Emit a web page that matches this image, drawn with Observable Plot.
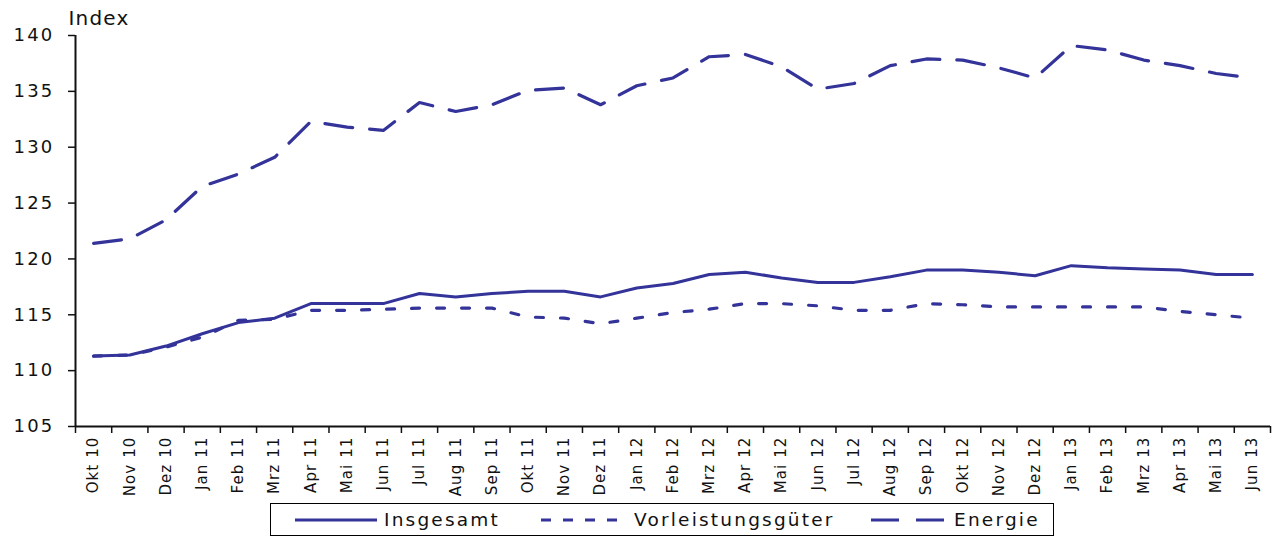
<!DOCTYPE html>
<html>
<head>
<meta charset="utf-8">
<script src="https://cdn.jsdelivr.net/npm/d3@7"></script>
<script src="https://cdn.jsdelivr.net/npm/@observablehq/plot@0.6"></script>
<style>
  body { margin: 0; background: white; font-family: "DejaVu Sans", Verdana, sans-serif; }
  #wrap { position: relative; width: 1274px; height: 540px; }
  .yax text { letter-spacing: 2.2px; }
  .xax text { letter-spacing: 1.1px; }
  .idx text { letter-spacing: 1.2px; }
  #legend { position: absolute; left: 270px; top: 503px; width: 784px; height: 33px; border: 1px solid #000; box-sizing: border-box; font-size: 18.5px; letter-spacing: 2.2px; color: #111; }
  #legend .item { display: flex; align-items: center; position: absolute; top: 0; height: 31px; }
  #legend svg { margin-right: 7px; }
</style>
</head>
<body>
<div id="wrap">
  <div id="chart"></div>
  <div id="legend"></div>
</div>
<script>
const months = ["Okt 10","Nov 10","Dez 10","Jan 11","Feb 11","Mrz 11","Apr 11","Mai 11","Jun 11","Jul 11","Aug 11","Sep 11","Okt 11","Nov 11","Dez 11","Jan 12","Feb 12","Mrz 12","Apr 12","Mai 12","Jun 12","Jul 12","Aug 12","Sep 12","Okt 12","Nov 12","Dez 12","Jan 13","Feb 13","Mrz 13","Apr 13","Mai 13","Jun 13"];
const insgesamt = [111.3,111.4,112.2,113.3,114.3,114.7,116.0,116.0,116.0,116.9,116.6,116.9,117.1,117.1,116.6,117.4,117.8,118.6,118.8,118.3,117.9,117.9,118.4,119.0,119.0,118.8,118.5,119.4,119.2,119.1,119.0,118.6,118.6];
const vorleistung = [111.3,111.4,112.1,113.0,114.5,114.6,115.4,115.4,115.5,115.6,115.6,115.6,114.8,114.7,114.2,114.7,115.2,115.5,116.0,116.0,115.8,115.4,115.4,116.0,115.9,115.7,115.7,115.7,115.7,115.7,115.3,115.0,114.7];
const energie = [121.4,121.8,123.5,126.5,127.6,129.1,132.3,131.8,131.5,134.0,133.2,133.8,135.1,135.3,133.8,135.5,136.2,138.1,138.3,137.2,135.2,135.7,137.3,137.9,137.8,137.1,136.2,139.1,138.7,137.8,137.3,136.6,136.2];
const seriesNames = ["Insgesamt","Vorleistungsgüter","Energie"];
const yTicks = [105,110,115,120,125,130,135,140];

const color = "#333399";
const dashes = { "Insgesamt": null, "Vorleistungsgüter": "8,17", "Energie": "28,17" };
const legendDashes = { "Insgesamt": null, "Vorleistungsgüter": "10,12", "Energie": "28,17" };

const toData = (arr) => arr.map((v, i) => ({ i, v }));

const chart = Plot.plot({
  width: 1274,
  height: 500,
  marginLeft: 75,
  marginRight: 4,
  marginTop: 35,
  marginBottom: 74,
  style: { fontFamily: "DejaVu Sans, Verdana, sans-serif", background: "white", color: "#111" },
  x: { type: "linear", domain: [-0.5, months.length - 0.5] },
  y: { domain: [yTicks[0], yTicks[yTicks.length - 1]] },
  marks: [
    Plot.axisY({ ticks: yTicks, tickSize: 7, tickPadding: 14, fontSize: 18, label: null, className: "yax", stroke: "#111", strokeWidth: 1.5 }),
    Plot.axisX({ ticks: d3.range(months.length), tickFormat: (i) => months[i], tickRotate: -90, tickSize: 0, tickPadding: 10, fontSize: 15, label: null, className: "xax" }),
    Plot.axisX({ ticks: d3.range(months.length + 1).map((i) => i - 0.5), tickFormat: () => "", tickSize: 7, label: null, stroke: "#111", strokeWidth: 1.5 }),
    Plot.ruleX([-0.5], { stroke: "#111", strokeWidth: 2 }),
    Plot.ruleY([yTicks[0]], { stroke: "#111", strokeWidth: 2 }),
    Plot.lineY(toData(energie), { x: "i", y: "v", stroke: color, strokeWidth: 3.2, strokeDasharray: dashes["Energie"] }),
    Plot.lineY(toData(vorleistung), { x: "i", y: "v", stroke: color, strokeWidth: 3.2, strokeDasharray: dashes["Vorleistungsgüter"] }),
    Plot.lineY(toData(insgesamt), { x: "i", y: "v", stroke: color, strokeWidth: 3 }),
    Plot.text(["Index"], { frameAnchor: "top-left", dx: -7, dy: -17, lineAnchor: "middle", textAnchor: "start", fontSize: 20, fill: "#111", className: "idx" })
  ]
});
document.getElementById("chart").appendChild(chart);

// Legend
const legend = document.getElementById("legend");
const legendPos = [
  { name: seriesNames[0], left: 24, w: 82 },
  { name: seriesNames[1], left: 270, w: 86 },
  { name: seriesNames[2], left: 600, w: 76 }
];
legendPos.forEach((p) => {
  const item = document.createElement("div");
  item.className = "item";
  item.style.left = p.left + "px";
  const dash = legendDashes[p.name];
  item.innerHTML = `<svg width="${p.w}" height="10"><line x1="0" y1="5" x2="${p.w}" y2="5" stroke="${color}" stroke-width="3.2" ${dash ? `stroke-dasharray="${dash}"` : ""}/></svg><span>${p.name}</span>`;
  legend.appendChild(item);
});
</script>
</body>
</html>
